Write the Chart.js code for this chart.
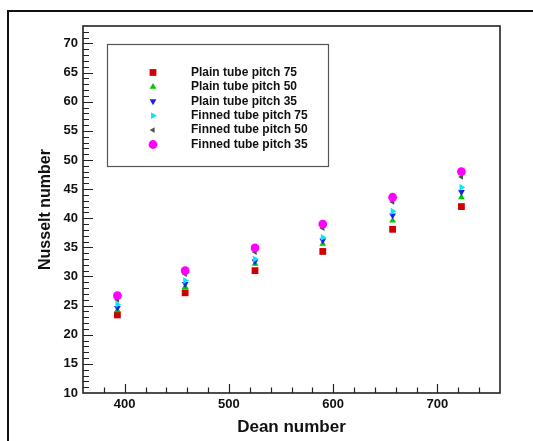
<!DOCTYPE html>
<html>
<head>
<meta charset="utf-8">
<title>Nusselt number vs Dean number</title>
<script src="https://cdn.jsdelivr.net/npm/chart.js@4/dist/chart.umd.min.js"></script>
<style>
    html, body { margin: 0; padding: 0; background: #fff; }
    #wrap { width: 533px; height: 441px; }
</style>
</head>
<body>
<div id="wrap"><canvas id="nusseltChart" width="533" height="441"></canvas></div>
<script>
// Datos: Dean number (x) y Nusselt number (y) por configuración de tubo
const deanNumbers = [393, 458, 525, 590, 657, 723];

const plainPitch75 = [23.4, 27.2, 31.0, 34.3, 38.1, 42.0];
const plainPitch50 = [24.2, 28.2, 32.2, 35.6, 39.6, 43.6];
const plainPitch35 = [24.6, 28.7, 32.6, 36.2, 40.5, 44.5];
const finnedPitch75 = [25.2, 29.3, 33.0, 36.7, 41.2, 45.3];
const finnedPitch50 = [26.0, 30.4, 34.2, 38.3, 42.8, 47.1];
const finnedPitch35 = [26.7, 31.0, 34.9, 39.0, 43.6, 48.0];

const seriesLabels = [
    'Plain tube pitch 75',
    'Plain tube pitch 50',
    'Plain tube pitch 35',
    'Finned tube pitch 75',
    'Finned tube pitch 50',
    'Finned tube pitch 35'
];

const xTickValues = [400, 500, 600, 700];
const yTickValues = [10, 15, 20, 25, 30, 35, 40, 45, 50, 55, 60, 65, 70];

const xRange = [360, 760];
const yRange = [10, 73];

const FONT = '"Liberation Sans", Arial, sans-serif';

function toPoints(values) {
    return values.map((v, i) => ({ x: deanNumbers[i], y: v }));
}

function makeSeries(label, values, color, style, radius, rotation, order) {
    return {
        label: label,
        data: toPoints(values),
        backgroundColor: color,
        borderColor: color,
        borderWidth: 0,
        pointStyle: style,
        pointRadius: radius,
        pointHoverRadius: radius,
        pointRotation: rotation,
        showLine: false,
        order: order
    };
}

// Marco exterior, borde del área y ticks hacia dentro
const framePlugin = {
    id: 'frame',
    beforeDraw(chart) {
        const ctx = chart.ctx;
        ctx.save();
        ctx.fillStyle = '#fff';
        ctx.fillRect(0, 0, chart.width, chart.height);
        ctx.strokeStyle = '#111';
        ctx.lineWidth = 2;
        ctx.strokeRect(8, 11, chart.width + 20, chart.height + 20);
        ctx.restore();
    },
    beforeDatasetsDraw(chart) {
        const ctx = chart.ctx;
        const area = chart.chartArea;
        const xs = chart.scales.x;
        const ys = chart.scales.y;
        ctx.save();
        ctx.strokeStyle = '#222';
        ctx.lineWidth = 1.2;
        ctx.beginPath();
        for (let v = yRange[0] + 1; v < yRange[1]; v++) {
            const py = Math.round(ys.getPixelForValue(v)) + 0.5;
            const len = v % 5 === 0 ? 10 : 6;
            ctx.moveTo(area.left, py);
            ctx.lineTo(area.left + len, py);
        }
        for (let v = xRange[0] + 20; v < xRange[1]; v += 20) {
            const px = Math.round(xs.getPixelForValue(v)) + 0.5;
            const len = v % 100 === 0 ? 9 : 5.5;
            ctx.moveTo(px, area.bottom);
            ctx.lineTo(px, area.bottom - len);
        }
        ctx.stroke();
        ctx.lineWidth = 1.6;
        ctx.strokeRect(area.left, area.top, area.right - area.left, area.bottom - area.top);
        ctx.restore();
    }
};

// Leyenda en recuadro dentro del área del gráfico
const legendBoxPlugin = {
    id: 'legendBox',
    afterDraw(chart) {
        const ctx = chart.ctx;
        ctx.save();
        ctx.fillStyle = '#fff';
        ctx.fillRect(107.5, 44.5, 221, 122);
        ctx.strokeStyle = '#555';
        ctx.lineWidth = 1.2;
        ctx.strokeRect(107.5, 44.5, 221, 122);
        chart.data.datasets.forEach((ds, i) => {
            const y = 72.5 + i * 14.4;
            ctx.fillStyle = ds.backgroundColor;
            ctx.strokeStyle = ds.borderColor;
            Chart.helpers.drawPoint(ctx, {
                pointStyle: ds.pointStyle,
                radius: ds.pointRadius,
                rotation: ds.pointRotation,
                borderWidth: 0
            }, 153, y);
            ctx.fillStyle = '#111';
            ctx.font = 'bold 12px ' + FONT;
            ctx.textBaseline = 'middle';
            ctx.textAlign = 'left';
            ctx.fillText(ds.label, 191, y);
        });
        ctx.restore();
    }
};

const ctx = document.getElementById('nusseltChart');

new Chart(ctx, {
    type: 'scatter',
    data: {
        datasets: [
            makeSeries(seriesLabels[0], plainPitch75, '#d00000', 'rect', 4.8, 0, 6),
            makeSeries(seriesLabels[1], plainPitch50, '#00c800', 'triangle', 3.9, 0, 5),
            makeSeries(seriesLabels[2], plainPitch35, '#1c1cf0', 'triangle', 3.9, 180, 4),
            makeSeries(seriesLabels[3], finnedPitch75, '#00e8ff', 'triangle', 3.9, 90, 3),
            makeSeries(seriesLabels[4], finnedPitch50, '#505050', 'triangle', 3.3, 270, 2),
            makeSeries(seriesLabels[5], finnedPitch35, '#ff00ff', 'circle', 4.4, 0, 1)
        ]
    },
    options: {
        responsive: false,
        animation: false,
        devicePixelRatio: 1,
        layout: {
            padding: { top: 26, right: 33, left: 0, bottom: 0 }
        },
        plugins: {
            legend: { display: false },
            tooltip: { enabled: false }
        },
        scales: {
            x: {
                type: 'linear',
                min: xRange[0],
                max: xRange[1],
                grid: { display: false, drawTicks: false },
                border: { display: false },
                ticks: {
                    padding: 4,
                    color: '#111',
                    font: { family: FONT, size: 13, weight: 'bold' }
                },
                afterBuildTicks(scale) {
                    scale.ticks = xTickValues.map(v => ({ value: v }));
                },
                title: {
                    display: true,
                    text: 'Dean number',
                    color: '#111',
                    padding: { top: 0, bottom: 3 },
                    font: { family: FONT, size: 17, weight: 'bold' }
                },
                afterFit(scale) {
                    scale.height = 48;
                }
            },
            y: {
                type: 'linear',
                min: yRange[0],
                max: yRange[1],
                grid: { display: false, drawTicks: false },
                border: { display: false },
                ticks: {
                    padding: 5,
                    color: '#111',
                    font: { family: FONT, size: 13, weight: 'bold' }
                },
                afterBuildTicks(scale) {
                    scale.ticks = yTickValues.map(v => ({ value: v }));
                },
                title: {
                    display: true,
                    text: 'Nusselt number',
                    color: '#111',
                    padding: { top: 36, bottom: 0 },
                    font: { family: FONT, size: 16, weight: 'bold' }
                },
                afterFit(scale) {
                    scale.width = 83;
                }
            }
        }
    },
    plugins: [framePlugin, legendBoxPlugin]
});
</script>
</body>
</html>
